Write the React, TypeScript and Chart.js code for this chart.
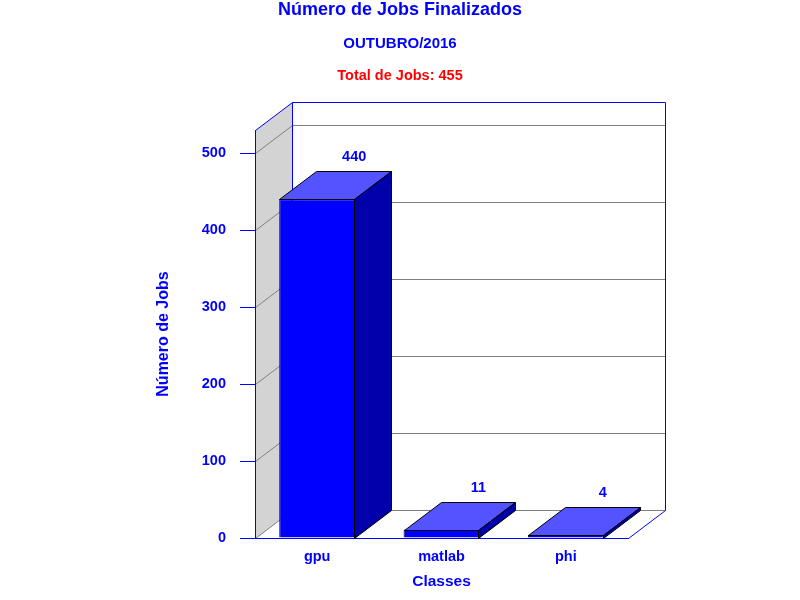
import React, { useEffect, useRef } from "react";
import { Chart, registerables } from "chart.js";

Chart.register(...registerables);

const categories = ["gpu", "matlab", "phi"];
const jobs = [440, 11, 4];
const yTicks = [0, 100, 200, 300, 400, 500];
const yMax = 530;

const mainTitle = "Número de Jobs Finalizados";
const subTitle = "OUTUBRO/2016";
const totalLine = "Total de Jobs: 455";
const xTitle = "Classes";
const yTitle = "Número de Jobs";

const FAMILY = '"Liberation Sans", Arial, sans-serif';
const BLUE = "#0000ff";
const GRAY = "#808080";
const DX = 37;
const DY = -28;

const seg = (ctx: CanvasRenderingContext2D, color: string, pts: number[][]) => {
  ctx.strokeStyle = color;
  ctx.beginPath();
  pts.forEach((p, i) => (i ? ctx.lineTo(p[0], p[1]) : ctx.moveTo(p[0], p[1])));
  ctx.stroke();
};

// side wall, back wall and floor of the 3d box
const walls = {
  id: "walls3d",
  beforeDraw(chart: any) {
    const { ctx, chartArea: a, scales } = chart;
    const L = Math.round(a.left) + 0.5;
    const R = Math.round(a.right) + 0.5;
    const T = Math.round(a.top) + 0.5;
    const B = Math.round(a.bottom) + 0.5;
    ctx.save();
    ctx.lineWidth = 1;
    ctx.fillStyle = "#d3d3d3";
    ctx.beginPath();
    ctx.moveTo(L, T);
    ctx.lineTo(L + DX, T + DY);
    ctx.lineTo(L + DX, B + DY);
    ctx.lineTo(L, B);
    ctx.closePath();
    ctx.fill();
    yTicks.forEach((v) => {
      const py = Math.round(scales.y.getPixelForValue(v)) + 0.5;
      seg(ctx, GRAY, [[L, py], [L + DX, py + DY], [R + DX, py + DY]]);
    });
    seg(ctx, BLUE, [[L, T], [L + DX, T + DY], [R + DX, T + DY], [R + DX, B + DY], [R, B]]);
    seg(ctx, BLUE, [[L + DX, T + DY], [L + DX, B + DY]]);
    ctx.restore();
  },
};

// top and side faces of each bar, plus value labels
const boxes = {
  id: "boxes3d",
  afterDatasetsDraw(chart: any) {
    const { ctx } = chart;
    const meta = chart.getDatasetMeta(0);
    ctx.save();
    ctx.lineWidth = 1;
    ctx.strokeStyle = "#000";
    meta.data.forEach((bar: any, i: number) => {
      const { x, y, base, width } = bar.getProps(["x", "y", "base", "width"], true);
      const l = Math.round(x - width / 2) + 0.5;
      const r = Math.round(x + width / 2) - 0.5;
      const t = Math.round(y) + 0.5;
      const b = Math.round(base) + 0.5;
      ctx.fillStyle = "#5353ff";
      ctx.beginPath();
      ctx.moveTo(l, t);
      ctx.lineTo(l + DX, t + DY);
      ctx.lineTo(r + DX, t + DY);
      ctx.lineTo(r, t);
      ctx.closePath();
      ctx.fill();
      ctx.stroke();
      ctx.fillStyle = "#0000aa";
      ctx.beginPath();
      ctx.moveTo(r, t);
      ctx.lineTo(r + DX, t + DY);
      ctx.lineTo(r + DX, b + DY);
      ctx.lineTo(r, b);
      ctx.closePath();
      ctx.fill();
      ctx.stroke();

      ctx.fillStyle = BLUE;
      ctx.font = `bold 14.5px ${FAMILY}`;
      ctx.textAlign = "center";
      ctx.textBaseline = "alphabetic";
      ctx.fillText(String(jobs[i]), x + DX, t + DY - 11);
    });
    ctx.restore();
  },
};

const header = {
  id: "header",
  afterDraw(chart: any) {
    const { ctx, width } = chart;
    ctx.save();
    ctx.textAlign = "center";
    ctx.textBaseline = "alphabetic";
    ctx.fillStyle = BLUE;
    ctx.font = `bold 18px ${FAMILY}`;
    ctx.fillText(mainTitle, width / 2, 15);
    ctx.font = `bold 15px ${FAMILY}`;
    ctx.fillText(subTitle, width / 2, 48);
    ctx.fillStyle = "#ff0000";
    ctx.font = `bold 14.5px ${FAMILY}`;
    ctx.fillText(totalLine, width / 2, 80);
    ctx.restore();
  },
};

const font = { family: FAMILY, size: 14.5, weight: "bold" as const };

export default function App() {
  const canvasRef = useRef<HTMLCanvasElement>(null);

  useEffect(() => {
    const chart = new Chart(canvasRef.current!, {
      type: "bar",
      data: {
        labels: categories,
        datasets: [
          {
            data: jobs,
            backgroundColor: BLUE,
            borderColor: "#000",
            borderWidth: 1,
            barPercentage: 0.61,
            categoryPercentage: 1,
          },
        ],
      },
      options: {
        responsive: false,
        animation: false,
        layout: { padding: { top: 130, right: 172, bottom: 0, left: 0 } },
        plugins: {
          legend: { display: false },
          tooltip: { enabled: false },
          title: { display: false },
        },
        scales: {
          x: {
            grid: { display: false, drawTicks: false },
            border: { display: true, color: BLUE, width: 1 },
            ticks: { color: BLUE, font, padding: 10 },
            title: {
              display: true,
              text: xTitle,
              color: BLUE,
              font: { ...font, size: 15.5 },
              padding: { top: 0, bottom: 9 },
            },
            afterFit: (s: any) => {
              s.height = 62;
            },
          },
          y: {
            min: 0,
            max: yMax,
            afterBuildTicks: (s: any) => {
              s.ticks = yTicks.map((value) => ({ value }));
            },
            grid: { drawOnChartArea: false, drawTicks: true, tickLength: 15, color: BLUE },
            border: { display: true, color: BLUE, width: 1 },
            ticks: { color: BLUE, font, padding: 14 },
            title: {
              display: true,
              text: yTitle,
              color: BLUE,
              font: { ...font, size: 16 },
              padding: { top: 154, bottom: 0 },
            },
            afterFit: (s: any) => {
              s.width = 255;
            },
          },
        },
      },
      plugins: [walls, boxes, header],
    });
    return () => chart.destroy();
  }, []);

  return (
    <div style={{ position: "absolute", left: 0, top: 0, width: 800, height: 600, background: "#fff" }}>
      <canvas ref={canvasRef} width={800} height={600} />
    </div>
  );
}
